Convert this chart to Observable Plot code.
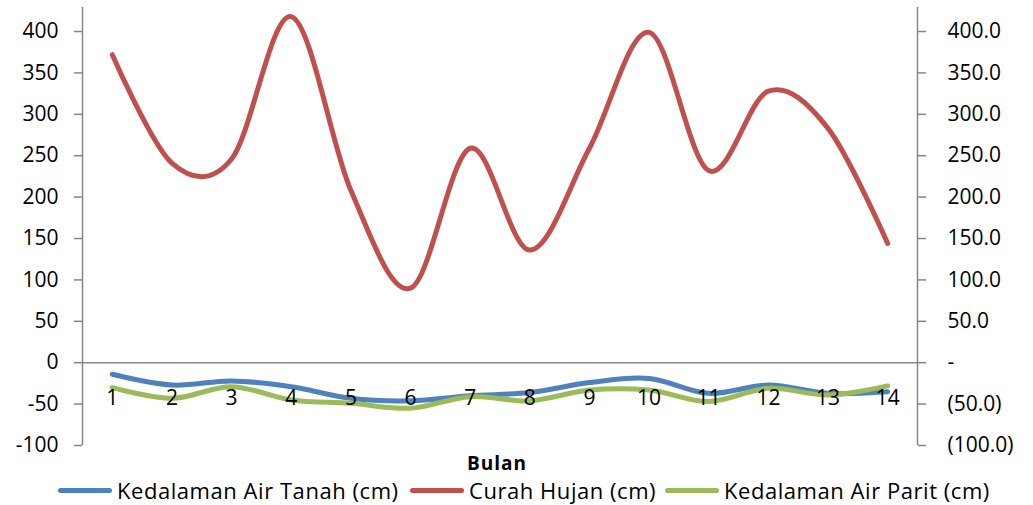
<!DOCTYPE html>
<html>
<head>
<meta charset="utf-8">
<script src="https://cdn.jsdelivr.net/npm/d3@7"></script>
<script src="https://cdn.jsdelivr.net/npm/@observablehq/plot@0.6"></script>
<style>
  html, body { margin: 0; padding: 0; background: #fff; }
  #wrap { position: relative; width: 1033px; height: 505px; font-family: "Open Sans", sans-serif; }
  #wrap svg { position: absolute; left: 0; top: 0; }
  .xtitle { position: absolute; top: 451px; left: 0; width: 994px; text-align: center; font-weight: bold; font-size: 19px; letter-spacing: 1px; line-height: 24px; }
  .leg { position: absolute; top: 476px; height: 29px; line-height: 29px; display: flex; align-items: center; font-size: 22px; letter-spacing: 0.55px; white-space: nowrap; }
  .sw { width: 54px; height: 5px; border-radius: 3px; margin-right: 5px; }
</style>
</head>
<body>
<div id="wrap"></div>
<script>
const months = [1, 2, 3, 4, 5, 6, 7, 8, 9, 10, 11, 12, 13, 14];
const airTanah = [-14, -27, -22, -29, -43, -46, -40, -36, -24, -19, -37, -27, -37, -35];
const curahHujan = [372, 241, 246, 418, 208, 90, 259, 136, 259, 399, 232, 328, 283, 144];
const airParit = [-30, -43, -29, -45, -49, -55, -41, -46, -33, -33, -47, -31, -39, -28];
const seriesNames = ["Kedalaman Air Tanah (cm)", "Curah Hujan (cm)", "Kedalaman Air Parit (cm)"];
const seriesColors = ["#4F81BD", "#C0504D", "#9BBB59"];
const yTicks = [-100, -50, 0, 50, 100, 150, 200, 250, 300, 350, 400];
const xTitle = "Bulan";

const seriesValues = [airTanah, curahHujan, airParit];
const rows = seriesNames.flatMap((name, i) =>
  months.map((m, j) => ({series: name, bulan: m, value: seriesValues[i][j]})));

const rightFmt = d => d === 0 ? "-" : d < 0 ? `(${(-d).toFixed(1)})` : d.toFixed(1);
const axisColor = "#868686";

const chart = Plot.plot({
  width: 1033,
  height: 455,
  marginLeft: 82,
  marginRight: 116,
  marginTop: 7,
  marginBottom: 10,
  style: {fontFamily: "Open Sans, sans-serif", fontSize: "21px", color: "#000", background: "transparent", overflow: "visible"},
  x: {type: "linear", domain: [0.5, 14.5], axis: null},
  y: {domain: [-100, 429], axis: null},
  color: {domain: seriesNames, range: seriesColors},
  marks: [
    Plot.ruleY([0], {x1: 0.5, x2: 14.5, stroke: axisColor, strokeWidth: 1.5}),
    Plot.ruleX([0.5, 14.5], {y1: -100, y2: 429, stroke: axisColor, strokeWidth: 1.5}),
    Plot.axisY({anchor: "left", label: null, ticks: yTicks, tickSize: 8, tickPadding: 16, stroke: axisColor, strokeWidth: 1.5, fill: "#000", fontSize: 21, tickFormat: d => String(d)}),
    Plot.axisY({anchor: "right", label: null, ticks: yTicks, tickSize: 8, tickPadding: 22, stroke: axisColor, strokeWidth: 1.5, fill: "#000", fontSize: 21, tickFormat: rightFmt}),
    Plot.line(rows, {x: "bulan", y: "value", z: "series", stroke: "series", strokeWidth: 5, curve: "catmull-rom", tension: 0, strokeLinecap: "round", strokeLinejoin: "round"}),
    Plot.text(months, {x: d => d, y: () => 0, text: d => String(d), dy: 36, fontSize: 21, fill: "#000"})
  ]
});

const wrap = document.getElementById("wrap");
wrap.appendChild(chart);

const t = document.createElement("div");
t.className = "xtitle";
t.textContent = xTitle;
wrap.appendChild(t);

const legLefts = [58, 410, 665];
seriesNames.forEach((name, i) => {
  const item = document.createElement("div");
  item.className = "leg";
  item.style.left = legLefts[i] + "px";
  const sw = document.createElement("div");
  sw.className = "sw";
  sw.style.background = seriesColors[i];
  const lab = document.createElement("span");
  lab.textContent = name;
  item.appendChild(sw);
  item.appendChild(lab);
  wrap.appendChild(item);
});
</script>
</body>
</html>
